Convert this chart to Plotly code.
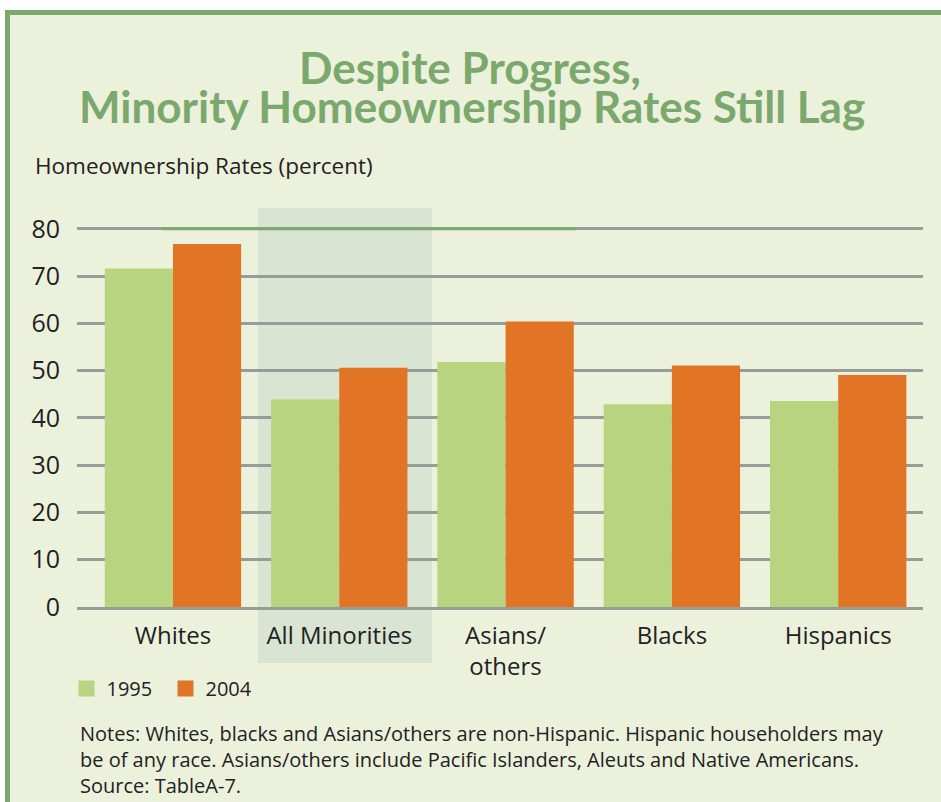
import plotly.graph_objects as go

categories = ["Whites", "All Minorities", "Asians/<br>others", "Blacks", "Hispanics"]
rates_1995 = [71.6, 43.9, 51.8, 42.9, 43.6]
rates_2004 = [76.8, 50.6, 60.4, 51.1, 49.1]
y_ticks = [0, 10, 20, 30, 40, 50, 60, 70, 80]
series_names = ["1995", "2004"]

W, H = 941, 802
L, R, T, B = 77, 18, 208, 195
PW, PH = W - L - R, H - T - B

def px_x(p):
    return (p - L) / PW

def px_y(p):
    return (H - B - p) / PH

BG = "#ecf1dc"
GREEN = "#b8d47f"
ORANGE = "#e27426"
TITLE = "#7aa86d"
TFONT = "Lato"
FONT = "Open Sans"
TXT = "#222222"

x = list(range(len(categories)))
fig = go.Figure()
fig.add_trace(go.Bar(x=x, y=rates_1995, name=series_names[0], showlegend=False,
                     marker=dict(color=GREEN, line=dict(width=0))))
fig.add_trace(go.Bar(x=x, y=rates_2004, name=series_names[1], showlegend=False,
                     marker=dict(color=ORANGE, line=dict(width=0))))
# legend entries with larger square swatches
for nm, col in zip(series_names, [GREEN, ORANGE]):
    fig.add_trace(go.Scatter(x=[None], y=[None], mode="markers", name=nm,
                             marker=dict(symbol="square", size=16, color=col, line=dict(width=0))))

fig.update_layout(
    width=W, height=H,
    margin=dict(l=L, r=R, t=T, b=B, autoexpand=False),
    paper_bgcolor="white",
    plot_bgcolor="rgba(0,0,0,0)",
    barmode="group", bargap=0.18, bargroupgap=0,
    font=dict(family=FONT, color=TXT, size=20),
    showlegend=True,
    legend=dict(orientation="h", x=px_x(66.5), xanchor="left", y=px_y(669), yanchor="top",
                bgcolor="rgba(0,0,0,0)", font=dict(size=20, color=TXT),
                itemwidth=30, entrywidth=54, tracegroupgap=0),
)
fig.update_xaxes(
    tickmode="array", tickvals=x, ticktext=categories, range=[-0.577, 4.51],
    showgrid=False, zeroline=False, showline=True, linecolor="#969c98", linewidth=3,
    ticks="outside", ticklen=0, ticklabelstandoff=5, tickfont=dict(size=24, color=TXT),
    fixedrange=True,
)
fig.update_yaxes(
    range=[0, 84.4], tickmode="array", tickvals=y_ticks, ticktext=[str(v) for v in y_ticks],
    showgrid=True, gridcolor="#969c98", gridwidth=3, zeroline=False, showline=False,
    ticks="", ticklabelstandoff=16, tickfont=dict(size=25, color=TXT),
    fixedrange=True,
)

shapes = [
    dict(type="rect", xref="paper", yref="paper", x0=px_x(7.5), x1=px_x(960), y0=px_y(12.5), y1=px_y(830),
         fillcolor=BG, line=dict(color="#7aa86d", width=5), layer="below"),
    dict(type="rect", xref="paper", yref="paper", x0=px_x(258), x1=px_x(432), y0=px_y(663), y1=px_y(208),
         fillcolor="#d9e4d2", line=dict(width=0), layer="between"),
    dict(type="line", xref="paper", yref="y", x0=px_x(162), x1=px_x(576), y0=80, y1=80,
         line=dict(color="#7aa86d", width=3), layer="above"),
]
fig.update_layout(shapes=shapes)

fig.add_annotation(text="<b>Despite Progress,</b>", xref="paper", yref="paper",
                   x=px_x(470), y=px_y(67), xanchor="center", yanchor="middle", showarrow=False,
                   font=dict(family=TFONT, size=44, color=TITLE))
fig.add_annotation(text="<b>Minority Homeownership Rates Still Lag</b>", xref="paper", yref="paper",
                   x=px_x(472), y=px_y(106), xanchor="center", yanchor="middle", showarrow=False,
                   font=dict(family=TFONT, size=44, color=TITLE))
fig.add_annotation(text="Homeownership Rates (percent)", xref="paper", yref="paper",
                   x=px_x(33), y=px_y(166), xanchor="left", yanchor="middle", showarrow=False,
                   font=dict(size=22.5, color=TXT))
fig.add_annotation(text="Notes: Whites, blacks and Asians/others are non-Hispanic. Hispanic householders may<br>"
                        "be of any race. Asians/others include Pacific Islanders, Aleuts and Native Americans.<br>"
                        "Source: TableA-7.",
                   xref="paper", yref="paper", x=px_x(78), y=px_y(718), xanchor="left", yanchor="top",
                   align="left", showarrow=False, font=dict(size=20, color=TXT))

fig.write_html("out.html", config={"displayModeBar": False},
               post_script="document.body.style.margin='0';document.body.style.padding='0';")
